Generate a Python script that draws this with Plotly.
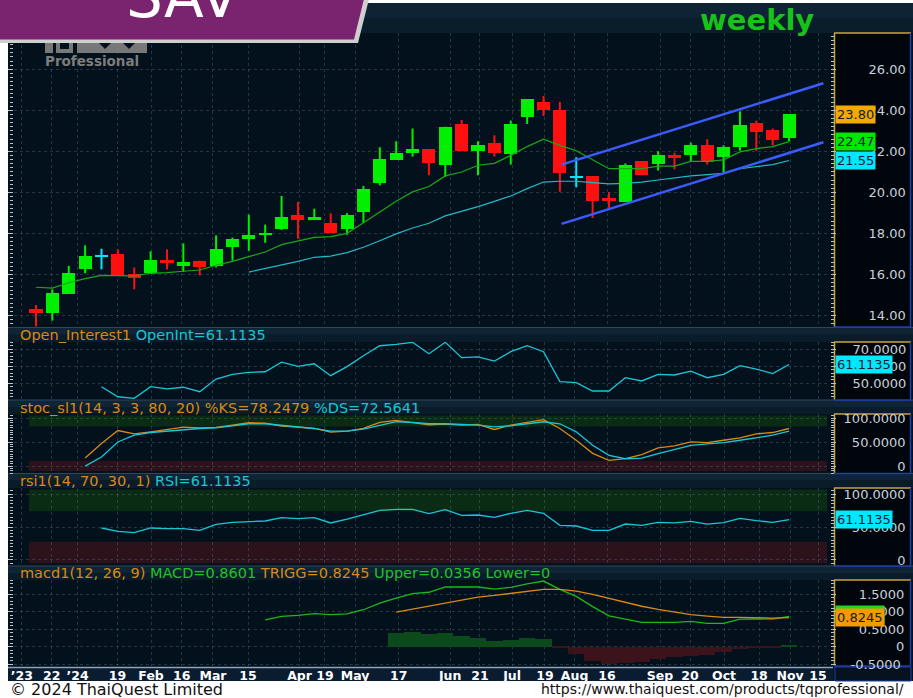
import plotly.graph_objects as go

W, H = 913, 698

# ---------------- data ----------------
weeks = list(range(47))  # weekly bars (late Dec 2023 .. mid Nov 2024)
open_ = [14.29, 14.13, 15.04, 16.24, 16.89, 16.99, 16.02, 16.05, 16.70, 16.41,
         16.67, 16.41, 17.35, 17.74, 17.93, 18.23, 18.91, 18.65, 18.49, 18.23,
         19.04, 20.47, 21.58, 21.93, 22.10, 21.35, 23.33, 22.03, 22.42, 21.87,
         23.66, 24.42, 24.02, 20.76, 20.80, 19.72, 19.53, 21.51, 21.38, 21.80,
         21.84, 22.29, 21.74, 22.23, 23.37, 23.04, 22.65]
high = [14.50, 15.27, 16.41, 17.41, 17.25, 17.22, 16.33, 17.12, 17.22, 17.51,
        16.67, 17.90, 17.79, 18.91, 18.42, 19.82, 19.53, 19.20, 18.98, 18.98,
        20.31, 22.20, 22.49, 23.11, 22.10, 23.20, 23.53, 22.49, 22.78, 23.50,
        24.54, 24.70, 24.41, 21.71, 20.80, 20.00, 21.41, 21.51, 22.00, 21.93,
        22.42, 22.59, 22.29, 23.95, 23.50, 23.11, 23.80]
low = [13.45, 13.74, 15.04, 16.05, 16.24, 15.95, 15.27, 16.05, 16.24, 16.11,
       15.95, 16.34, 16.67, 17.15, 17.54, 18.16, 17.74, 18.65, 18.03, 17.93,
       18.52, 20.34, 21.58, 21.74, 20.83, 20.76, 22.03, 20.83, 21.74, 21.35,
       23.33, 23.72, 20.03, 20.24, 18.75, 19.24, 19.53, 20.83, 21.06, 21.12,
       21.51, 21.35, 20.93, 22.03, 22.03, 22.29, 22.49]
close = [14.13, 15.11, 16.08, 16.89, 16.89, 15.95, 15.82, 16.70, 16.54, 16.60,
         16.37, 17.22, 17.71, 17.90, 18.03, 18.78, 18.65, 18.78, 18.03, 18.91,
         20.18, 21.61, 21.93, 22.10, 21.41, 23.20, 22.03, 22.29, 21.93, 23.33,
         24.54, 24.02, 20.93, 20.76, 19.56, 19.56, 21.35, 20.83, 21.80, 21.71,
         22.29, 21.48, 22.20, 23.30, 22.94, 22.55, 23.80]

ma_fast = [15.37, 15.33, 15.59, 15.79, 15.95, 15.95, 15.92, 16.05, 16.08, 16.15,
           16.21, 16.44, 16.63, 16.86, 17.09, 17.45, 17.64, 17.80, 17.84, 18.00,
           18.52, 19.04, 19.56, 20.02, 20.28, 20.80, 20.99, 21.32, 21.41, 21.80,
           22.23, 22.59, 22.29, 22.03, 21.61, 21.15, 21.15, 21.15, 21.28, 21.28,
           21.51, 21.51, 21.58, 21.97, 22.13, 22.23, 22.47]
ma_slow_start = 13
ma_slow = [16.11, 16.28, 16.47, 16.63, 16.83, 16.89, 17.06, 17.32, 17.64, 17.97,
           18.26, 18.49, 18.85, 19.07, 19.30, 19.56, 19.82, 20.18, 20.50, 20.54,
           20.54, 20.47, 20.41, 20.44, 20.50, 20.60, 20.70, 20.80, 20.86, 20.93,
           21.15, 21.25, 21.35, 21.55]

channel_weeks = [32.1, 48.1]
channel_upper = [21.35, 25.32]
channel_lower = [18.46, 22.44]

oi_start = 4
open_interest = [48.0, 42.1, 41.2, 48.0, 46.7, 47.7, 45.1, 52.5, 55.3, 56.5,
                 56.8, 62.4, 60.0, 61.5, 54.5, 59.8, 66.2, 72.1, 72.9, 74.1,
                 67.4, 74.1, 65.1, 65.6, 63.1, 68.6, 72.1, 68.6, 51.0, 50.4,
                 45.5, 45.5, 53.3, 51.4, 55.3, 54.9, 57.2, 53.3, 55.3, 60.4,
                 58.4, 55.7, 61.1]

stoch_start = 3
stoch_k = [16.8, 46.9, 74.1, 67.1, 71.3, 76.9, 81.1, 79.7, 80.4, 85.3,
           90.2, 89.5, 83.2, 81.1, 78.3, 70.6, 72.7, 78.3, 90.9, 95.1,
           90.9, 86.0, 87.4, 85.3, 86.7, 76.2, 85.3, 90.9, 96.5, 78.3,
           53.8, 26.6, 11.9, 15.4, 23.8, 37.8, 42.0, 50.3, 49.0, 53.8,
           58.7, 67.1, 69.9, 78.25]
stoch_d = [0.0, 18.9, 50.3, 64.3, 69.9, 72.7, 76.2, 78.3, 79.7, 83.9,
           88.1, 88.1, 85.3, 81.8, 78.3, 72.7, 72.7, 76.9, 85.3, 92.3,
           90.9, 88.1, 88.1, 86.7, 85.3, 81.8, 83.9, 88.1, 92.3, 88.1,
           71.3, 43.4, 22.4, 15.4, 16.8, 25.9, 35.0, 43.4, 46.2, 49.0,
           53.8, 58.7, 64.3, 72.56]

rsi_start = 4
rsi = [48.5, 43.4, 41.4, 48.5, 47.5, 47.5, 44.9, 54.0, 57.1, 58.1,
       59.1, 64.1, 62.6, 64.1, 56.1, 62.1, 69.2, 75.3, 76.8, 76.8,
       70.2, 76.3, 67.7, 68.2, 64.6, 70.7, 75.3, 70.7, 52.5, 51.5,
       44.9, 44.9, 54.5, 52.5, 57.1, 56.1, 58.6, 54.5, 56.6, 63.1,
       59.6, 57.1, 61.1]

macd_start = 14
macd = [0.76, 0.86, 0.89, 0.94, 0.91, 0.93, 1.05, 1.24, 1.38, 1.51,
        1.55, 1.70, 1.70, 1.70, 1.64, 1.69, 1.79, 1.87, 1.63, 1.43,
        1.14, 0.875, 0.78, 0.69, 0.69, 0.69, 0.72, 0.66, 0.66, 0.78,
        0.79, 0.78, 0.86]
signal_start = 22
macd_signal = [0.98, 1.07, 1.15, 1.24, 1.32, 1.41, 1.46, 1.52, 1.58, 1.63,
               1.63, 1.58, 1.49, 1.37, 1.26, 1.15, 1.06, 0.98, 0.91, 0.87,
               0.83, 0.83, 0.82, 0.81, 0.8245]
macd_hist = [0.394, 0.413, 0.356, 0.385, 0.298, 0.240, 0.154, 0.183, 0.240, 0.212,
             -0.02, -0.21, -0.404, -0.51, -0.46, -0.45, -0.365, -0.31, -0.26, -0.23,
             -0.16, -0.077, -0.048, -0.048, 0.0356]

tick_weeks = [-0.87, 0.96, 2.54, 4.98, 7.03, 8.90, 10.81, 12.95, 16.10, 17.65,
              19.49, 22.16, 25.30, 27.12, 29.08, 31.09, 32.90, 34.88, 38.12, 39.95,
              42.03, 44.17, 46.06, 47.77]
tick_labels = ["\u201923", "22", "\u201924", "19", "Feb", "16", "Mar", "15", "Apr", "19",
               "May", "17", "Jun", "21", "Jul", "19", "Aug", "16", "Sep", "20",
               "Oct", "18", "Nov", "15"]

main_ticks = [14, 16, 18, 20, 22, 24, 26]
oi_ticks = [50, 60, 70]
osc_ticks = [0, 50, 100]
macd_ticks = [-0.5, 0, 0.5, 1.0, 1.5]

symbol = "SAV"
period = "weekly"
last_close = 23.80
ma_fast_last = 22.47
ma_slow_last = 21.55
oi_last = 61.1135
ks_last, ds_last = 78.2479, 72.5641
rsi_last = 61.1135
macd_last, trigg_last, upper_last, lower_last = 0.8601, 0.8245, 0.0356, 0

# ---------------- styling helpers ----------------
FONT = "DejaVu Sans"
GREEN = "#00f000"
RED = "#ff1010"
CYAN = "#00e8ff"
ORANGE = "#d98a12"
HCYAN = "#19c6d6"
HGREEN = "#22c422"
TICK = "#b8c4d0"
GRID = "rgba(95,125,150,0.35)"
GOLD = "#c9a53a"
BLUE = "#1f3fae"
FIG_SP = "\u2007"   # digit-width space
PUN_SP = "\u2008"   # period-width space


def xp(x):
    return x / W


def yp(y):
    return 1 - y / H


def right_align(labels):
    """pad labels with digit/period-width spaces so they line up on the right"""
    ref = max(labels, key=len)
    out = []
    for s in labels:
        pad = "".join(PUN_SP if ch == "." else FIG_SP for ch in ref[: len(ref) - len(s)])
        out.append(pad + s)
    return out


# panel pixel extents (top, bottom)
P_MAIN = (33, 327)
P_OI = (342, 400)
P_STO = (414, 473.5)
P_RSI = (488, 566)
P_MACD = (580, 666)


def dom(p):
    return [yp(p[1]), yp(p[0])]


R_MAIN = [13.43, 27.77]
R_OI = [40.2, 74.3]
R_STO = [-15.3, 108.4]
R_RSI = [-9.1, 109.1]
R_MACD = [-0.557, 1.90]

fig = go.Figure()

# ---- candles ----
groups = {GREEN: [], RED: [], CYAN: []}
colors, bases, heights = [], [], []
for i, o, h, l, c in zip(weeks, open_, high, low, close):
    col = GREEN if c > o else (RED if c < o else CYAN)
    colors.append(col)
    groups[col].append((i, l, h))
    hgt = abs(c - o)
    b = min(o, c)
    if hgt < 0.07:
        b -= (0.07 - hgt) / 2
        hgt = 0.07
    bases.append(b)
    heights.append(hgt)

for col, segs in groups.items():
    xs, ys = [], []
    for i, l, h in segs:
        xs += [i, i, None]
        ys += [l, h, None]
    fig.add_trace(go.Scatter(x=xs, y=ys, mode="lines", line=dict(color=col, width=2),
                             hoverinfo="skip", xaxis="x", yaxis="y"))

fig.add_trace(go.Bar(x=weeks, y=heights, base=bases, width=0.8,
                     marker=dict(color=colors, line=dict(width=0)),
                     hoverinfo="skip", xaxis="x", yaxis="y"))

fig.add_trace(go.Scatter(x=weeks, y=ma_fast, mode="lines",
                         line=dict(color="#1aa81a", width=1.2), xaxis="x", yaxis="y"))
fig.add_trace(go.Scatter(x=weeks[ma_slow_start:], y=ma_slow, mode="lines",
                         line=dict(color="#22b8c8", width=1.2), xaxis="x", yaxis="y"))
for ch in (channel_upper, channel_lower):
    fig.add_trace(go.Scatter(x=channel_weeks, y=ch, mode="lines",
                             line=dict(color="#3a5cff", width=2.5), xaxis="x", yaxis="y"))

# ---- open interest ----
fig.add_trace(go.Scatter(x=weeks[oi_start:], y=open_interest, mode="lines",
                         line=dict(color=HCYAN, width=1.3), xaxis="x", yaxis="y2"))
# ---- stochastic ----
fig.add_trace(go.Scatter(x=weeks[stoch_start:], y=stoch_k, mode="lines",
                         line=dict(color=ORANGE, width=1.3), xaxis="x", yaxis="y3"))
fig.add_trace(go.Scatter(x=weeks[stoch_start:], y=stoch_d, mode="lines",
                         line=dict(color=HCYAN, width=1.3), xaxis="x", yaxis="y3"))
# ---- RSI ----
fig.add_trace(go.Scatter(x=weeks[rsi_start:], y=rsi, mode="lines",
                         line=dict(color=HCYAN, width=1.3), xaxis="x", yaxis="y4"))
# ---- MACD ----
fig.add_trace(go.Bar(x=weeks[signal_start:], y=macd_hist, width=1.0,
                     marker=dict(color=["#0c4a1c" if v >= 0 else "#3c121b" for v in macd_hist],
                                 line=dict(width=0)),
                     hoverinfo="skip", xaxis="x", yaxis="y5"))
fig.add_trace(go.Scatter(x=weeks[macd_start:], y=macd, mode="lines",
                         line=dict(color="#1cb81c", width=1.3), xaxis="x", yaxis="y5"))
fig.add_trace(go.Scatter(x=weeks[signal_start:], y=macd_signal, mode="lines",
                         line=dict(color=ORANGE, width=1.3), xaxis="x", yaxis="y5"))


def yaxis(p, rng, vals, texts, minor, standoff):
    return dict(domain=dom(p), range=rng, autorange=False, side="right", anchor="x",
                tickmode="array", tickvals=vals, ticktext=right_align(texts),
                ticks="outside", ticklen=5, tickwidth=1, tickcolor=TICK,
                ticklabelstandoff=standoff,
                tickfont=dict(family=FONT, size=13, color="#c8d0da"),
                mirror="ticks", showline=False, zeroline=False,
                showgrid=True, gridcolor=GRID, griddash="dot", gridwidth=1,
                minor=dict(tick0=0, dtick=minor, ticks="outside", ticklen=3,
                           tickcolor=TICK, showgrid=False),
                automargin=False, fixedrange=True)


layout = dict(
    width=W, height=H, margin=dict(l=0, r=0, t=0, b=0, pad=0, autoexpand=False),
    autosize=False,
    paper_bgcolor="white", plot_bgcolor="rgba(0,0,0,0)", showlegend=False,
    barmode="overlay", bargap=0,
    xaxis=dict(domain=[xp(14), xp(830)], range=[-1.344, 48.5], anchor="y5",
               tickmode="array", tickvals=tick_weeks, ticktext=tick_labels,
               tickangle=0, tickfont=dict(family=FONT, size=12.5, color="white", weight="bold"),
               ticks="", showgrid=True, gridcolor=GRID, griddash="dot", zeroline=False,
               showline=False, automargin=False, fixedrange=True),
    yaxis=yaxis(P_MAIN, R_MAIN, main_ticks, [f"{v:.2f}" for v in main_ticks], 0.2, 30),
    yaxis2=yaxis(P_OI, R_OI, oi_ticks, [f"{v:.4f}" for v in oi_ticks], 2, 14),
    yaxis3=yaxis(P_STO, R_STO, osc_ticks, ["0", "50.0000", "100.0000"], 5, 5),
    yaxis4=yaxis(P_RSI, R_RSI, osc_ticks, ["0", "50.0000", "100.0000"], 5, 5),
    yaxis5=yaxis(P_MACD, R_MACD, macd_ticks,
                 ["-0.5000", "0", "0.5000", "1.0000", "1.5000"], 0.1, 12),
)
fig.update_layout(**layout)

# ---------------- shapes ----------------
shapes = []


def rect(x0, y0, x1, y1, color, layer="below", line_w=0, line_c=None):
    shapes.append(dict(type="rect", xref="paper", yref="paper",
                       x0=xp(x0), x1=xp(x1), y0=yp(y1), y1=yp(y0),
                       fillcolor=color, line=dict(width=line_w, color=line_c or color),
                       layer=layer))


def hline(x0, x1, y, color, w=1, layer="below"):
    shapes.append(dict(type="line", xref="paper", yref="paper", x0=xp(x0), x1=xp(x1),
                       y0=yp(y), y1=yp(y), line=dict(color=color, width=w), layer=layer))


def vline(x, y0, y1, color, w=1, layer="below"):
    shapes.append(dict(type="line", xref="paper", yref="paper", x0=xp(x), x1=xp(x),
                       y0=yp(y0), y1=yp(y1), line=dict(color=color, width=w), layer=layer))


# dark frame
rect(8, 3, 913, 681, "#03111c")
# header strips
rect(8, 3, 913, 18, "#0e2434")
rect(8, 18, 913, 33, "#0a1d2b")
for top, bot in [(327.5, P_OI[0]), (400, P_STO[0]), (473.5, P_RSI[0]), (566, P_MACD[0])]:
    mid = (top + bot) / 2
    rect(8, top, 913, mid, "#0f2434")
    rect(8, mid, 913, bot, "#0a1b29")
    hline(8, 913, top, "#33475a", 1)
# x label band
rect(8, 667, 833, 681, "#0a1c30")
hline(8, 833, 667.5, "#8fa3b8", 1.5)
rect(835, 667, 911, 681, "#06121e", line_w=1, line_c=BLUE)
# right axis boxes
for top, bot in [P_MAIN, P_OI, P_STO, P_RSI, P_MACD]:
    rect(834, top, 911, bot, "#00060c")
    hline(834, 911, top, GOLD, 1.5)
    vline(834.5, top, bot, GOLD, 1.5)
    vline(910.5, top, bot, BLUE, 1.5)
    hline(834, 911, bot, BLUE, 1.5)
# indicator zones
for yref, lo, hi, col in [("y3", 82.4, 105.5, "#0b2c14"), ("y3", -10.5, 11.1, "#2b121b"),
                          ("y4", 73.8, 107.0, "#0b2c14"), ("y4", -5.0, 27.7, "#2b121b")]:
    shapes.append(dict(type="rect", xref="paper", yref=yref, x0=xp(29), x1=xp(827),
                       y0=lo, y1=hi, fillcolor=col, line=dict(width=0), layer="below"))
# partial TQ logo
LOGO = "#787878"
rect(45, 40, 53, 53, LOGO, layer="above")
rect(56, 40, 73, 53, LOGO, layer="above")
rect(60, 40, 69, 49, "#03111c", layer="above")
rect(77, 42, 147, 53, LOGO, layer="above")
for tx in (98, 122):
    shapes.append(dict(type="path", xref="paper", yref="paper",
                       path=f"M {xp(tx)},{yp(42)} L {xp(tx + 14)},{yp(42)} L {xp(tx + 7)},{yp(49)} Z",
                       fillcolor="#03111c", line=dict(width=0), layer="above"))
# banner
shapes.append(dict(type="path", xref="paper", yref="paper",
                   path=f"M 0,{yp(-1)} L {xp(369)},{yp(-1)} L {xp(358)},{yp(43)} L 0,{yp(43)} Z",
                   fillcolor="#cfcfcf", line=dict(width=0), layer="above"))
shapes.append(dict(type="path", xref="paper", yref="paper",
                   path=f"M 0,{yp(-1)} L {xp(364)},{yp(-1)} L {xp(354)},{yp(39.5)} L 0,{yp(39.5)} Z",
                   fillcolor="#7a2470", line=dict(width=0), layer="above"))
fig.update_layout(shapes=shapes)

# ---------------- annotations ----------------
ann = []


def header(y, html):
    ann.append(dict(xref="paper", yref="paper", x=xp(18), y=yp(y), xanchor="left",
                    yanchor="middle", text=html, showarrow=False,
                    font=dict(family=FONT, size=14.5, color=ORANGE)))


def sp(col, txt):
    return f"<span style='color:{col}'>{txt}</span>"


header(335, sp(ORANGE, "Open_Interest1") + sp(HCYAN, f" OpenInt={oi_last:.4f}"))
header(407.5, sp(ORANGE, f"stoc_sl1(14, 3, 3, 80, 20) %KS={ks_last:.4f}") + sp(HCYAN, f" %DS={ds_last:.4f}"))
header(481, sp(ORANGE, "rsi1(14, 70, 30, 1)") + sp(HCYAN, f" RSI={rsi_last:.4f}"))
header(573, sp(ORANGE, "macd1(12, 26, 9)") + sp(HGREEN, f" MACD={macd_last:.4f}")
       + sp(ORANGE, f" TRIGG={trigg_last:.4f}")
       + sp(HGREEN, f" Upper={upper_last:.4f} Lower={lower_last}"))


def vbox(yref, y, txt, bg, yshift=0):
    ann.append(dict(xref="paper", yref=yref, x=xp(835), y=y, xanchor="left", yanchor="middle",
                    text=txt, showarrow=False, bgcolor=bg, borderpad=1, yshift=yshift,
                    font=dict(family=FONT, size=13, color="#102030")))


vbox("y", last_close, f"{last_close:.2f}", "#f2a900")
vbox("y", ma_fast_last, f"{ma_fast_last:.2f}", "#00e600")
vbox("y", ma_slow_last, f"{ma_slow_last:.2f}", "#00e8ff")
vbox("y2", oi_last, f"{oi_last:.4f}", "#00e8ff")
vbox("y4", rsi_last, f"{rsi_last:.4f}", "#00e8ff")
vbox("y5", macd_last, f"{macd_last:.4f}", "#22d422", yshift=2)
vbox("y5", trigg_last, f"{trigg_last:.4f}", "#f29a00")

ann.append(dict(xref="paper", yref="paper", x=xp(183), y=yp(-3), xanchor="center",
                yanchor="middle", text=symbol, showarrow=False,
                font=dict(family=FONT, size=58, color="white")))
ann.append(dict(xref="paper", yref="paper", x=xp(757), y=yp(20), xanchor="center",
                yanchor="middle", text=period, showarrow=False,
                font=dict(family=FONT, size=29, color="#19c219", weight="bold")))
ann.append(dict(xref="paper", yref="paper", x=xp(92), y=yp(61), xanchor="center",
                yanchor="middle", text="Professional", showarrow=False,
                font=dict(family=FONT, size=13.5, color="#7d7d7d", weight="bold")))
ann.append(dict(xref="paper", yref="paper", x=xp(8), y=yp(689), xanchor="left",
                yanchor="middle", text="\u00a9 2024 ThaiQuest Limited", showarrow=False,
                font=dict(family=FONT, size=16, color="#111111")))
ann.append(dict(xref="paper", yref="paper", x=xp(906), y=yp(689), xanchor="right",
                yanchor="middle", text="https://www.thaiquest.com/products/tqprofessional/",
                showarrow=False, font=dict(family=FONT, size=14, color="#111111")))
fig.update_layout(annotations=ann)

fig.write_html("out.html", config={"displayModeBar": False},
               post_script="document.body.style.margin='0';document.body.style.padding='0';"
                           "document.body.style.overflow='hidden';")
